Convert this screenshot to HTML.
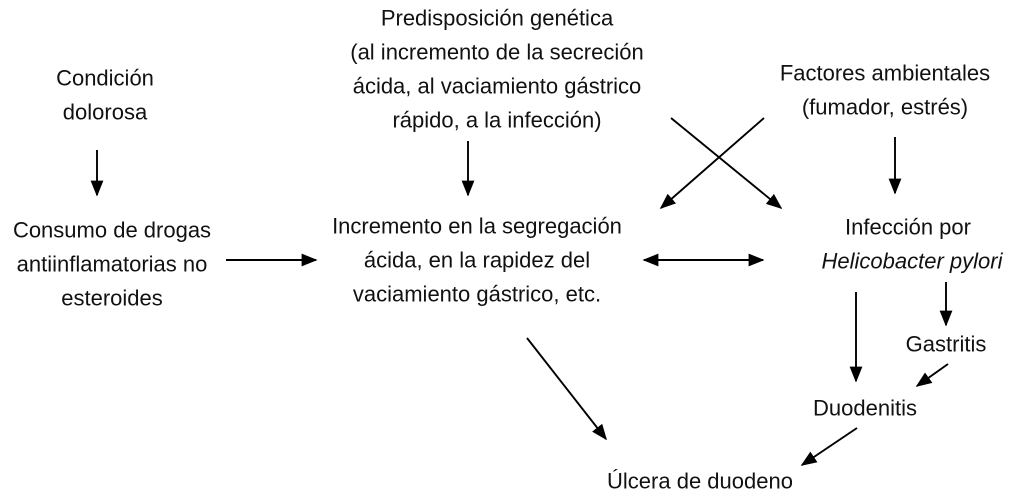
<!DOCTYPE html>
<html><head><meta charset="utf-8"><style>
html,body{margin:0;padding:0;background:#fff;}
svg{display:block;}
text{font-family:"Liberation Sans",sans-serif;font-size:22px;fill:#111;text-anchor:middle;dominant-baseline:central;}
line{stroke:#000;stroke-width:1.9;}
</style></head><body>
<svg width="1024" height="499" viewBox="0 0 1024 499">
<defs>
<marker id="b" viewBox="0 0 10 10" refX="9" refY="5" markerWidth="16" markerHeight="16" markerUnits="userSpaceOnUse" orient="auto-start-reverse"><path d="M0,1 L10,5 L0,9 z" fill="#000"/></marker></defs>
<text x="105" y="78">Condición</text><text x="105" y="112">dolorosa</text>
<text x="497" y="18">Predisposición genética</text>
<text x="497" y="52">(al incremento de la secreción</text>
<text x="497" y="86">ácida, al vaciamiento gástrico</text>
<text x="497" y="120">rápido, a la infección)</text>
<text x="885" y="73">Factores ambientales</text><text x="885" y="107">(fumador, estrés)</text>
<text x="112" y="230">Consumo de drogas</text>
<text x="112" y="264">antiinflamatorias no</text>
<text x="112" y="298">esteroides</text>
<text x="477" y="226">Incremento en la segregación</text>
<text x="477" y="260">ácida, en la rapidez del</text>
<text x="477" y="294">vaciamiento gástrico, etc.</text>
<text x="908" y="227">Infección por</text>
<text x="912" y="261" font-style="italic">Helicobacter pylori</text>
<text x="946" y="344">Gastritis</text>
<text x="865" y="408">Duodenitis</text>
<text x="700" y="481">Úlcera de duodeno</text>
<line x1="97" y1="150" x2="97" y2="195" marker-end="url(#b)"/>
<line x1="468" y1="141" x2="468" y2="195" marker-end="url(#b)"/>
<line x1="895" y1="137" x2="895" y2="193" marker-end="url(#b)"/>
<line x1="226" y1="260" x2="316" y2="260" marker-end="url(#b)"/>
<line x1="644" y1="260" x2="763" y2="260" marker-start="url(#b)" marker-end="url(#b)"/>
<line x1="671" y1="118" x2="781" y2="208" marker-end="url(#b)"/>
<line x1="764" y1="118" x2="661" y2="208" marker-end="url(#b)"/>
<line x1="856" y1="292" x2="856" y2="381" marker-end="url(#b)"/>
<line x1="946" y1="282" x2="946" y2="325" marker-end="url(#b)"/>
<line x1="948" y1="364" x2="917" y2="386" marker-end="url(#b)"/>
<line x1="857" y1="428" x2="802" y2="465" marker-end="url(#b)"/>
<line x1="527" y1="338" x2="606" y2="439" marker-end="url(#b)"/>
</svg>
</body></html>
